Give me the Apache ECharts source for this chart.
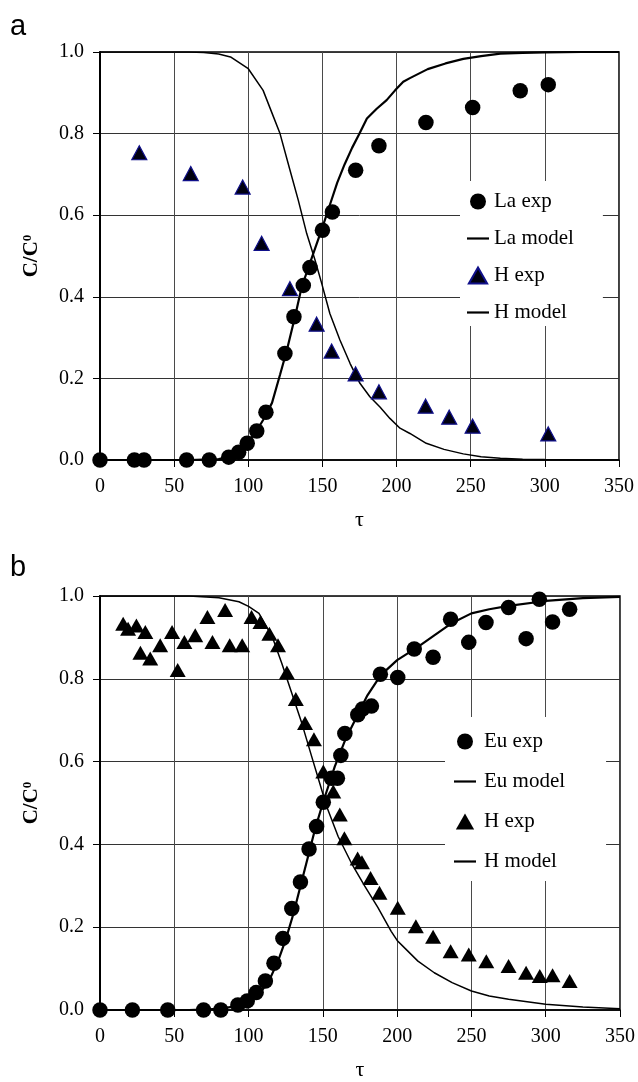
<!DOCTYPE html>
<html>
<head>
<meta charset="utf-8">
<script src="https://cdn.jsdelivr.net/npm/echarts@6/dist/echarts.min.js"></script>
<style>html,body{margin:0;padding:0;background:#fff;overflow:hidden}#c{width:638px;height:1082px}</style>
</head>
<body>
<div id="c"></div>
<script>
// ---------- Panel a ----------
const laExpX = [0,23.2,29.7,58.4,73.7,86.8,93.5,99.3,105.7,111.9,124.7,130.8,137.1,141.6,150,156.7,172.4,188.1,219.8,251.3,283.4,302.3];
const laExpY = [0,0,0,0,0,0.007,0.019,0.041,0.071,0.117,0.261,0.351,0.428,0.472,0.563,0.608,0.710,0.770,0.827,0.864,0.905,0.920];
const hExpAX = [26.5,61.2,96.2,109,128.1,146.1,156.2,172.4,188.1,219.6,235.5,251.3,302.3];
const hExpAY = [0.753,0.702,0.669,0.531,0.42,0.333,0.267,0.211,0.167,0.132,0.105,0.083,0.064];
const laModelX = [0,60,80,88,92,96,99,104.5,110,116,121.5,126,131.5,136,142.7,150,155,160,165,170,175,180,186.6,193.3,199,204.5,209,221,233,245,257,270,285,300,325,350];
const laModelY = [0,0,0.002,0.008,0.016,0.028,0.041,0.065,0.098,0.14,0.21,0.269,0.351,0.424,0.494,0.57,0.625,0.68,0.725,0.765,0.80,0.837,0.861,0.882,0.906,0.927,0.936,0.958,0.972,0.983,0.99,0.996,0.998,0.999,1,1];
const hModelAX = [0,60,70,80,88,100,110,117,121.4,128,133.7,139.4,145,149.5,155,161.8,168.6,175.3,182,188.8,195.5,202.3,209,220,232,245,257,270,285,300,325,350];
const hModelAY = [1,1,0.999,0.995,0.988,0.959,0.906,0.841,0.80,0.712,0.637,0.555,0.49,0.433,0.359,0.294,0.237,0.188,0.155,0.13,0.102,0.078,0.065,0.041,0.026,0.015,0.008,0.004,0.002,0.001,0,0];

// ---------- Panel b ----------
const euExpX = [0,21.8,45.6,69.7,81.3,92.8,99.1,105.1,111.3,117.1,123.1,129.1,134.9,140.7,145.8,150.3,155.8,159.8,162.1,164.8,173.5,176.7,182.7,188.7,200.4,211.5,224.2,236,248.2,259.8,275,286.8,295.7,304.6,316.1];
const euExpY = [0,0,0,0,0,0.012,0.022,0.042,0.070,0.113,0.173,0.245,0.309,0.389,0.443,0.502,0.56,0.56,0.615,0.668,0.713,0.727,0.734,0.811,0.803,0.872,0.852,0.944,0.888,0.936,0.972,0.897,0.992,0.937,0.968];
const hExpBX = [15.6,18.9,24.5,27.2,30.5,33.8,40.5,48.5,52.3,56.8,64.1,72.3,75.7,84.2,87.3,95.7,102,108,114,119.8,125.8,131.8,138,144,150.3,157,161.4,164.5,173.4,176.3,182.1,188.1,200.4,212.6,224.2,236,248.2,260,275,286.8,296,304.6,316.1];
const hExpBY = [0.933,0.921,0.929,0.863,0.913,0.849,0.881,0.913,0.821,0.889,0.905,0.949,0.889,0.966,0.881,0.881,0.949,0.937,0.909,0.881,0.815,0.751,0.693,0.654,0.576,0.528,0.472,0.415,0.366,0.357,0.319,0.283,0.247,0.202,0.177,0.142,0.134,0.118,0.106,0.090,0.082,0.084,0.070];
const euModelX = [0,60,80,90,95,100,105,110,115,120,125,130,135,140,145,150,155,158,165,174,180,189,200,214,225,237,250,262,275,300,325,350];
const euModelY = [0,0,0.003,0.008,0.013,0.02,0.033,0.052,0.08,0.12,0.17,0.23,0.3,0.37,0.44,0.50,0.555,0.588,0.652,0.717,0.76,0.809,0.845,0.877,0.905,0.935,0.958,0.968,0.976,0.988,0.995,0.998];
const hModelBX = [0,60,80,93.5,100,107,116,122.4,129.1,135.8,142.5,149.2,152.5,160.3,169.2,178.1,187,196,200,205,214,225,237,250,262,275,300,325,350];
const hModelBY = [1,1,0.996,0.986,0.975,0.958,0.901,0.837,0.765,0.693,0.612,0.532,0.492,0.419,0.355,0.30,0.248,0.19,0.168,0.15,0.118,0.09,0.066,0.046,0.034,0.026,0.014,0.007,0.003];

const xTicks = [0,50,100,150,200,250,300,350];
const yTicks = [0.0,0.2,0.4,0.6,0.8,1.0];

const zip = (xs, ys) => xs.map((x, i) => [x, ys[i]]);
const SERIF = 'Liberation Serif';
const LINE_ICON = 'path://M0,0L22,0L22,2.2L0,2.2Z';
const TRI_ICON = 'path://M11,1L19,15L3,15Z';

function xAxis(gi) {
  return {
    gridIndex: gi, type: 'value', min: xTicks[0], max: xTicks[xTicks.length-1], interval: 50,
    axisLine: {show: true, onZero: false, lineStyle: {color: '#000', width: 1.5}},
    axisTick: {show: true, length: 7, lineStyle: {color: '#000', width: 1}},
    axisLabel: {fontFamily: SERIF, fontSize: 20, color: '#000', margin: 17},
    splitLine: {show: true, lineStyle: {color: '#4a4a4a', width: 1}},
    name: 'τ', nameLocation: 'middle', nameGap: 49,
    nameTextStyle: {fontFamily: SERIF, fontSize: 22, color: '#000'}
  };
}
function yAxis(gi) {
  return {
    gridIndex: gi, type: 'value', min: yTicks[0], max: yTicks[yTicks.length-1], interval: 0.2,
    axisLine: {show: true, onZero: false, lineStyle: {color: '#000', width: 2}},
    axisTick: {show: true, length: 7, lineStyle: {color: '#000', width: 1}},
    axisLabel: {fontFamily: SERIF, fontSize: 20, color: '#000', margin: 16, formatter: v => v.toFixed(1)},
    splitLine: {show: true, lineStyle: {color: '#333', width: 1}},
    name: '{m|C/C}{s|0}', nameLocation: 'middle', nameGap: 57, nameRotate: 90,
    nameTextStyle: {rich: {
      m: {fontFamily: SERIF, fontWeight: 'bold', fontSize: 21, color: '#000', lineHeight: 22},
      s: {fontFamily: SERIF, fontWeight: 'bold', fontSize: 13, color: '#000', verticalAlign: 'top', lineHeight: 22, padding: [0,0,8,0]}
    }}
  };
}

const chart = echarts.init(document.getElementById('c'), null, {renderer: 'canvas', width: 638, height: 1082});
const strip = n => n.replace(/ \([ab]\)$/, '');
chart.setOption({
  animation: false,
  backgroundColor: '#fff',
  grid: [
    {left: 100, top: 52, width: 519, height: 408, show: true, borderColor: '#000', borderWidth: 1.5},
    {left: 100, top: 596, width: 524, height: 415, show: true, borderColor: '#000', borderWidth: 1.5}
  ],
  xAxis: [xAxis(0), xAxis(1)],
  yAxis: [yAxis(0), yAxis(1)],
  graphic: [
    {type: 'text', left: 10, top: 12, style: {text: 'a', font: '29px "Liberation Sans"', fill: '#000'}},
    {type: 'text', left: 10, top: 553, style: {text: 'b', font: '29px "Liberation Sans"', fill: '#000'}}
  ],
  legend: [
    {
      left: 460, top: 181, orient: 'vertical', backgroundColor: '#fff', borderWidth: 0,
      padding: [10, 29, 3, 7], itemGap: 16, itemWidth: 22, itemHeight: 16,
      textStyle: {fontFamily: SERIF, fontSize: 21, color: '#000'}, formatter: strip,
      data: [
        {name: 'La exp', icon: 'circle'},
        {name: 'La model', icon: LINE_ICON},
        {name: 'H exp (a)', icon: TRI_ICON},
        {name: 'H model (a)', icon: LINE_ICON}
      ]
    },
    {
      left: 445, top: 717, orient: 'vertical', backgroundColor: '#fff', borderWidth: 0,
      padding: [14, 41, 9, 9], itemGap: 19, itemWidth: 22, itemHeight: 16,
      textStyle: {fontFamily: SERIF, fontSize: 21, color: '#000', padding: [0,0,0,3]}, formatter: strip,
      data: [
        {name: 'Eu exp', icon: 'circle'},
        {name: 'Eu model', icon: LINE_ICON},
        {name: 'H exp (b)', icon: TRI_ICON},
        {name: 'H model (b)', icon: LINE_ICON}
      ]
    }
  ],
  series: [
    {name: 'La model', type: 'line', xAxisIndex: 0, yAxisIndex: 0, data: zip(laModelX, laModelY),
      symbol: 'none', lineStyle: {color: '#000', width: 2.2}, itemStyle: {color: '#000'}, z: 2},
    {name: 'H model (a)', type: 'line', xAxisIndex: 0, yAxisIndex: 0, data: zip(hModelAX, hModelAY),
      symbol: 'none', lineStyle: {color: '#000', width: 1.5}, itemStyle: {color: '#000'}, z: 2},
    {name: 'La exp', type: 'scatter', xAxisIndex: 0, yAxisIndex: 0, data: zip(laExpX, laExpY),
      symbol: 'circle', symbolSize: 15.5, itemStyle: {color: '#000', opacity: 1}, z: 3},
    {name: 'H exp (a)', type: 'scatter', xAxisIndex: 0, yAxisIndex: 0, data: zip(hExpAX, hExpAY),
      symbol: 'triangle', symbolSize: [15, 14], itemStyle: {color: '#000010', borderColor: '#10108a', borderWidth: 1.2, opacity: 1}, z: 3},

    {name: 'Eu model', type: 'line', xAxisIndex: 1, yAxisIndex: 1, data: zip(euModelX, euModelY),
      symbol: 'none', lineStyle: {color: '#000', width: 2.2}, itemStyle: {color: '#000'}, z: 2},
    {name: 'H model (b)', type: 'line', xAxisIndex: 1, yAxisIndex: 1, data: zip(hModelBX, hModelBY),
      symbol: 'none', lineStyle: {color: '#000', width: 1.5}, itemStyle: {color: '#000'}, z: 2},
    {name: 'Eu exp', type: 'scatter', xAxisIndex: 1, yAxisIndex: 1, data: zip(euExpX, euExpY),
      symbol: 'circle', symbolSize: 15.5, itemStyle: {color: '#000', opacity: 1}, z: 3},
    {name: 'H exp (b)', type: 'scatter', xAxisIndex: 1, yAxisIndex: 1, data: zip(hExpBX, hExpBY),
      symbol: 'triangle', symbolSize: [16, 14], itemStyle: {color: '#000', opacity: 1}, z: 3}
  ]
});
</script>
</body>
</html>
